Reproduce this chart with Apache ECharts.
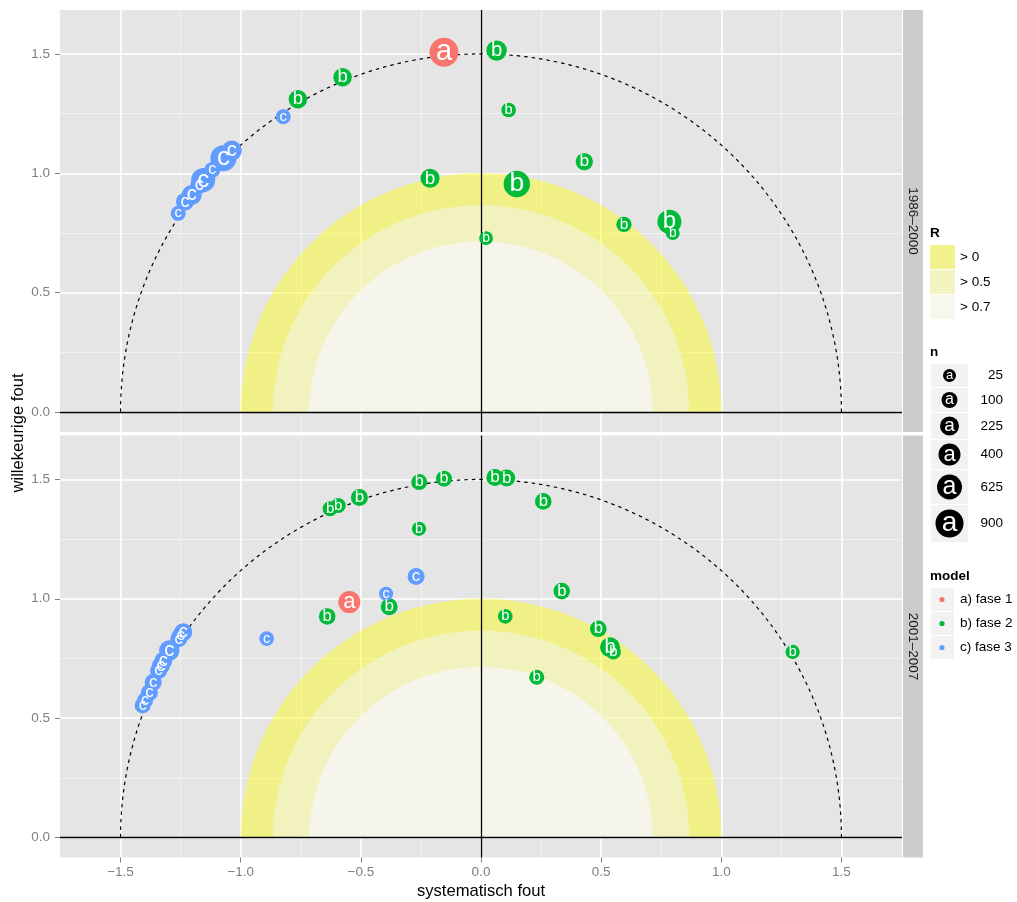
<!DOCTYPE html>
<html><head><meta charset="utf-8">
<script src="https://cdn.jsdelivr.net/npm/echarts@6/dist/echarts.min.js"></script>
<style>html,body{margin:0;padding:0;background:#fff}#c{width:1017px;height:902px}</style>
</head><body><div id="c"></div>
<script>
const FONT = '"Liberation Sans", Arial, Helvetica, sans-serif';
// ---------- data ----------
const periods = ['1986–2000', '2001–2007'];
const xMajorTicks = [-1.5, -1, -0.5, 0, 0.5, 1, 1.5];
const xMinorTicks = [-1.25, -0.75, -0.25, 0.25, 0.75, 1.25];
const yMajorTicks = [0, 0.5, 1, 1.5];
const yMinorTicks = [0.25, 0.75, 1.25];
const modelLetters = ['a', 'b', 'c'];
const modelNames = ['a) fase 1', 'b) fase 2', 'c) fase 3'];
const modelColors = ['#F8766D', '#00BA38', '#619CFF'];
const rLabels = ['> 0', '> 0.5', '> 0.7'];
const rRadii = [1, 0.866, 0.714];
const refRadius = [1.5];
const nBreaks = [25, 100, 225, 400, 625, 900];

// panel 1: 1986–2000
const p1Model = ['c','c','c','c','c','c','c','c','c','a','b','b','b','b','b','b','b','b','b','b','b'];
const p1X = [-1.260,-1.232,-1.204,-1.172,-1.156,-1.118,-1.072,-1.037,-0.823,-0.154,0.065,-0.576,-0.762,0.115,0.430,-0.212,0.149,0.595,0.784,0.798,0.021];
const p1Y = [0.832,0.881,0.909,0.951,0.972,1.014,1.063,1.095,1.237,1.507,1.514,1.402,1.310,1.265,1.049,0.979,0.955,0.786,0.797,0.749,0.728];
const p1N = [69,178,278,178,544,100,711,278,69,1000,300,200,200,60,150,225,750,80,544,40,40];

// panel 2: 2001–2007
const p2Model = ['b','b','b','b','b','b','c','c','b','a','b','c','b','b','b','b','b','b','b','b','b','b','c','c','c','c','c','c','c','c','c','c','c'];
const p2X = [-0.628,-0.594,-0.506,-0.257,-0.154,-0.258,-0.270,-0.395,-0.382,-0.548,-0.640,-0.892,0.058,0.107,0.259,0.336,0.101,0.488,0.537,0.551,0.232,1.297,-1.239,-1.250,-1.258,-1.297,-1.322,-1.332,-1.342,-1.364,-1.380,-1.398,-1.408];
const p2Y = [1.377,1.391,1.424,1.489,1.503,1.293,1.093,1.021,0.967,0.986,0.926,0.833,1.508,1.506,1.408,1.032,0.926,0.874,0.797,0.777,0.671,0.777,0.860,0.846,0.832,0.783,0.740,0.720,0.699,0.650,0.607,0.574,0.553];
const p2N = [70,70,136,100,100,50,136,50,136,400,120,60,136,136,120,120,60,120,278,70,70,50,178,136,136,300,178,178,136,136,136,100,100];

const panels = [
  {x: p1X, y: p1Y, n: p1N, m: p1Model},
  {x: p2X, y: p2Y, n: p2N, m: p2Model}
];
// ---------- layout / style ----------
const xRange = [-1.752, 1.752];
const yRange = [-0.084, 1.684];
const gridBoxes = [{left: 60, top: 10, width: 842, height: 422}, {left: 60, top: 435.5, width: 842, height: 422}];
const ringFills = ['rgba(255,255,0,0.41)', 'rgba(244,244,255,0.47)', 'rgba(247,247,255,0.7)'];
const rLegendFills = ['#F2F28C', '#F4F4C2', '#F7F7EE'];
const LETTER_SCALE = 2.0;
function radius(n) { return 5 + 0.3 * Math.sqrt(n); }
function fmt(v) { return (v < 0 ? '\u2212' : '') + Math.abs(v).toFixed(1); }

const chart = echarts.init(document.getElementById('c'), null, {renderer: 'canvas'});
const xAxis = [], yAxis = [], series = [];
gridBoxes.forEach((g, gi) => {
  const isBottom = gi === 1;
  xAxis.push({type: 'value', gridIndex: gi, position: 'bottom', min: xRange[0], max: xRange[1], z: 0,
    axisLine: {show: false, onZero: false}, axisTick: {show: false, customValues: xMinorTicks},
    axisLabel: {show: false, customValues: xMinorTicks},
    splitLine: {show: true, lineStyle: {color: '#F2F2F2', width: 1}}});
  xAxis.push({type: 'value', gridIndex: gi, position: 'bottom', min: xRange[0], max: xRange[1], z: 1,
    axisLine: {show: false, onZero: false},
    axisTick: {show: isBottom, customValues: xMajorTicks, length: 5, lineStyle: {color: '#7F7F7F', width: 1}},
    axisLabel: {show: isBottom, customValues: xMajorTicks, formatter: fmt, color: '#7F7F7F', fontSize: 13.5, fontFamily: FONT, margin: 8},
    splitLine: {show: true, lineStyle: {color: '#FFFFFF', width: 1.6}},
    name: isBottom ? 'systematisch fout' : '', nameLocation: 'middle', nameGap: 25,
    nameTextStyle: {color: '#000', fontSize: 16.6, fontFamily: FONT, verticalAlign: 'top'}});
  yAxis.push({type: 'value', gridIndex: gi, position: 'left', min: yRange[0], max: yRange[1], z: 0,
    axisLine: {show: false, onZero: false}, axisTick: {show: false, customValues: yMinorTicks},
    axisLabel: {show: false, customValues: yMinorTicks},
    splitLine: {show: true, lineStyle: {color: '#F2F2F2', width: 1}}});
  yAxis.push({type: 'value', gridIndex: gi, position: 'left', min: yRange[0], max: yRange[1], z: 1,
    axisLine: {show: false, onZero: false},
    axisTick: {show: true, customValues: yMajorTicks, length: 5, lineStyle: {color: '#7F7F7F', width: 1}},
    axisLabel: {show: true, customValues: yMajorTicks, formatter: fmt, color: '#7F7F7F', fontSize: 13.5, fontFamily: FONT, margin: 10},
    splitLine: {show: true, lineStyle: {color: '#FFFFFF', width: 1.6}}});
  const ax = gi * 2 + 1;
  // R half-disks
  series.push({type: 'custom', xAxisIndex: ax, yAxisIndex: ax, z: 1, silent: true, clip: true,
    data: rRadii.map(r => [r, 0]),
    renderItem: (params, api) => {
      const r = api.value(0), pts = [];
      for (let i = 0; i <= 180; i++) { const t = Math.PI * i / 180; pts.push(api.coord([r * Math.cos(t), r * Math.sin(t)])); }
      return {type: 'polygon', shape: {points: pts}, style: {fill: ringFills[params.dataIndex]}};
    }});
  // dashed reference semicircle
  series.push({type: 'custom', xAxisIndex: ax, yAxisIndex: ax, z: 2, silent: true,
    data: refRadius.map(r => [r, 0]),
    renderItem: (params, api) => {
      const r = api.value(0), pts = [];
      for (let i = 0; i <= 360; i++) { const t = Math.PI * i / 360; pts.push(api.coord([r * Math.cos(t), r * Math.sin(t)])); }
      return {type: 'polyline', shape: {points: pts}, style: {stroke: '#000', fill: null, lineWidth: 1.2, lineDash: [3.5, 4]}};
    }});
  // zero lines
  series.push({type: 'line', xAxisIndex: ax, yAxisIndex: ax, z: 3, data: [], silent: true,
    markLine: {silent: true, symbol: 'none', animation: false, label: {show: false},
      lineStyle: {color: '#000', type: 'solid', width: 1.3},
      data: [{xAxis: 0}, {yAxis: 0}]}});
  // points
  const P = panels[gi];
  modelLetters.forEach((L, mi) => {
    const data = [];
    for (let i = 0; i < P.x.length; i++) {
      if (P.m[i] !== L) continue;
      const r = radius(P.n[i]);
      data.push({value: [P.x[i], P.y[i], P.n[i]], symbolSize: 2 * r, label: {fontSize: LETTER_SCALE * r}});
    }
    series.push({type: 'scatter', name: modelNames[mi], xAxisIndex: ax, yAxisIndex: ax, z: 5, silent: true,
      symbol: 'circle', data: data, itemStyle: {color: modelColors[mi], opacity: 1},
      label: {show: true, position: 'inside', formatter: L, color: '#FFFFFF', fontFamily: FONT},
      emphasis: {disabled: true}});
  });
});

// ---------- graphic: strips, y title, legends ----------
const graphic = [];
gridBoxes.forEach((g, gi) => {
  graphic.push({type: 'rect', shape: {x: 903, y: g.top, width: 20, height: g.height}, style: {fill: '#CCCCCC'}, silent: true});
  graphic.push({type: 'text', x: 913, y: g.top + g.height / 2, rotation: -Math.PI / 2,
    style: {text: periods[gi], fill: '#1A1A1A', font: '13.5px ' + FONT, align: 'center', verticalAlign: 'middle'}, silent: true});
});
graphic.push({type: 'text', x: 18, y: 433, rotation: Math.PI / 2,
  style: {text: 'willekeurige fout', fill: '#000', font: '16.6px ' + FONT, align: 'center', verticalAlign: 'middle'}});
// R legend
graphic.push({type: 'text', x: 930, y: 233, style: {text: 'R', fill: '#000', font: 'bold 13.5px ' + FONT, verticalAlign: 'middle'}});
rLabels.forEach((lab, i) => {
  const y0 = 245 + i * 25;
  graphic.push({type: 'rect', shape: {x: 930, y: y0, width: 25, height: 24}, style: {fill: rLegendFills[i]}});
  graphic.push({type: 'text', x: 960, y: y0 + 12, style: {text: lab, fill: '#000', font: '13.5px ' + FONT, verticalAlign: 'middle'}});
});
// n legend
graphic.push({type: 'text', x: 930, y: 352, style: {text: 'n', fill: '#000', font: 'bold 13.5px ' + FONT, verticalAlign: 'middle'}});
const nRows = [[364, 23], [388, 24], [413, 26], [440, 29], [470, 34], [505, 37]];
nBreaks.forEach((nb, i) => {
  const [y0, h] = nRows[i];
  const r = radius(nb), cy = y0 + h / 2;
  graphic.push({type: 'rect', shape: {x: 931, y: y0, width: 37, height: h}, style: {fill: '#F2F2F2'}});
  graphic.push({type: 'circle', shape: {cx: 949.5, cy: cy, r: r}, style: {fill: '#000'}});
  graphic.push({type: 'text', x: 949.5, y: cy, style: {text: 'a', fill: '#fff', font: (LETTER_SCALE * r).toFixed(1) + 'px ' + FONT, align: 'center', verticalAlign: 'middle'}});
  graphic.push({type: 'text', x: 1003, y: cy, style: {text: String(nb), fill: '#000', font: '13.5px ' + FONT, align: 'right', verticalAlign: 'middle'}});
});
// model legend
graphic.push({type: 'text', x: 930, y: 576, style: {text: 'model', fill: '#000', font: 'bold 13.5px ' + FONT, verticalAlign: 'middle'}});
modelNames.forEach((lab, i) => {
  const y0 = 588 + i * 24;
  graphic.push({type: 'rect', shape: {x: 931, y: y0, width: 23, height: 23}, style: {fill: '#F2F2F2'}});
  graphic.push({type: 'circle', shape: {cx: 942, cy: y0 + 11.5, r: 2.6}, style: {fill: modelColors[i]}});
  graphic.push({type: 'text', x: 960, y: y0 + 11.5, style: {text: lab, fill: '#000', font: '13.5px ' + FONT, verticalAlign: 'middle'}});
});

chart.setOption({
  animation: false,
  backgroundColor: '#FFFFFF',
  textStyle: {fontFamily: FONT},
  grid: gridBoxes.map(g => Object.assign({backgroundColor: '#E5E5E5', show: true, borderWidth: 0, containLabel: false}, g)),
  xAxis: xAxis, yAxis: yAxis, series: series, graphic: graphic
});
</script></body></html>
